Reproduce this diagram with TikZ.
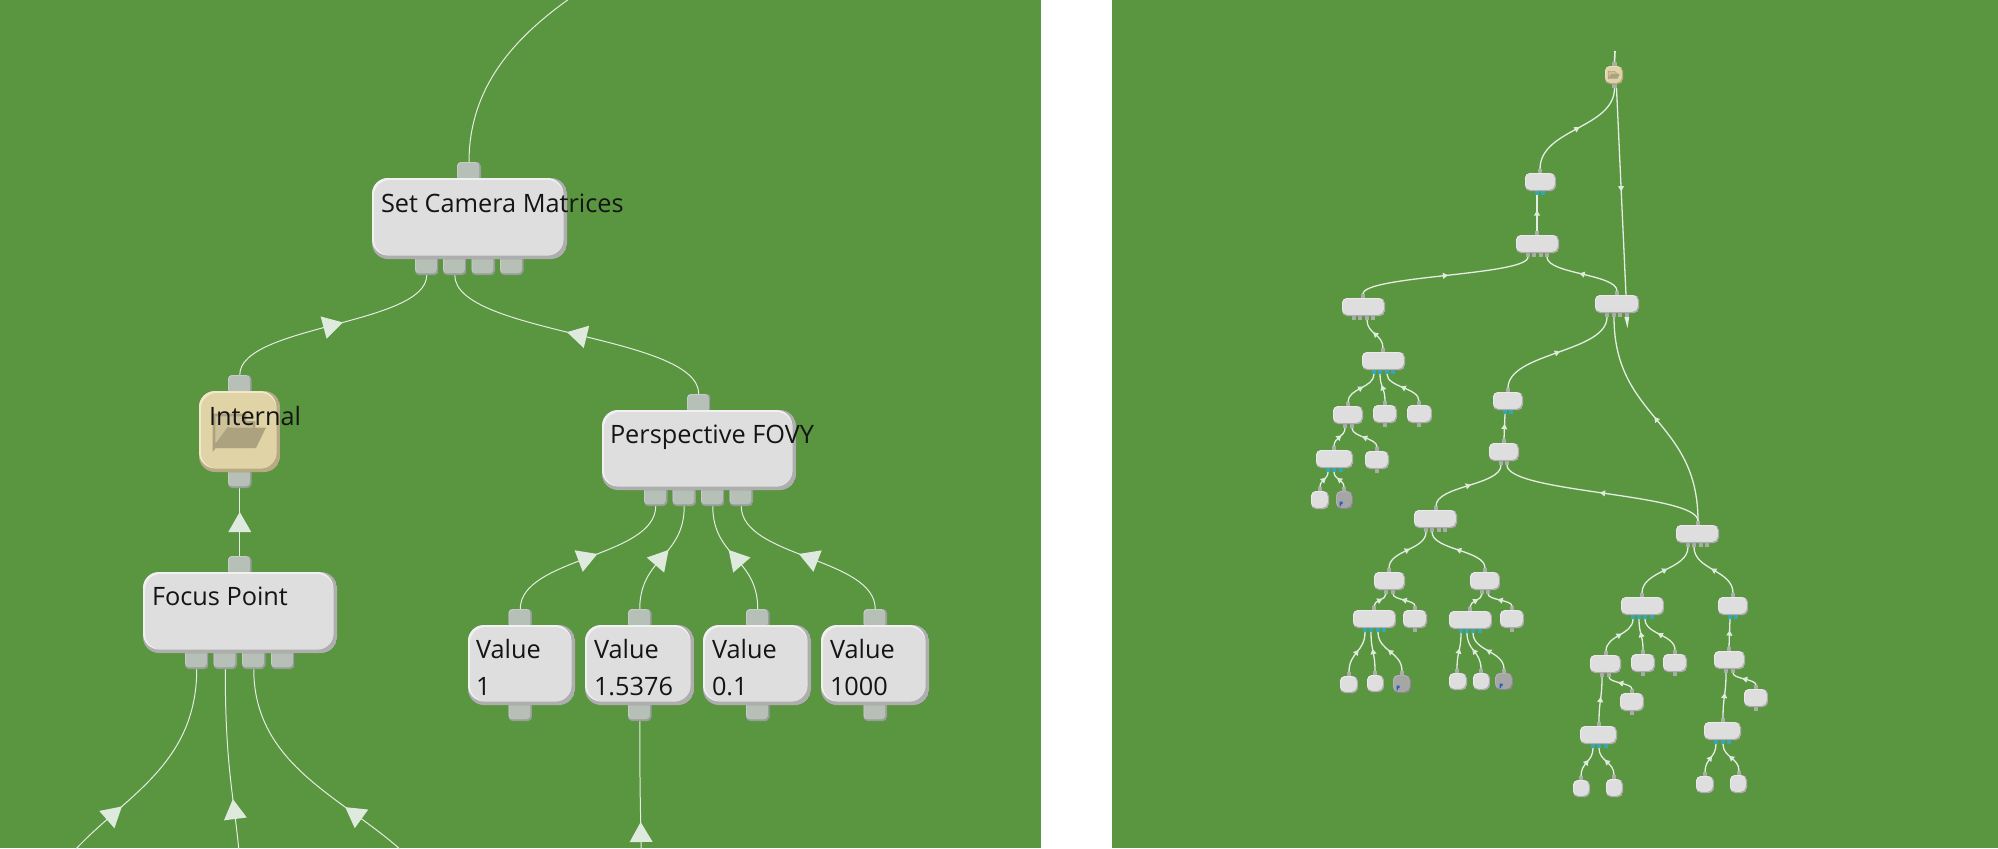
\documentclass[tikz,border=0pt]{standalone}
\usepackage{fontspec}
\setmainfont{Open Sans}
\usetikzlibrary{calc,decorations.markings}
\definecolor{grn}{HTML}{5A963F}
\definecolor{lnc}{HTML}{E4EDE4}
\definecolor{arc}{HTML}{DFEADF}
\definecolor{bxf}{HTML}{DEDEDE}
\definecolor{bxl}{HTML}{F1F1F1}
\definecolor{bxd}{HTML}{7E7E7E}
\definecolor{inf}{HTML}{E0D3A5}
\definecolor{inl}{HTML}{F0E8C8}
\definecolor{ind}{HTML}{8C8260}
\definecolor{ptf}{HTML}{B6C0B7}
\definecolor{ptl}{HTML}{C8D0C8}
\definecolor{ptd}{HTML}{76817A}
\definecolor{spt}{HTML}{A9AFA7}
\definecolor{tea}{HTML}{30A9B6}
\definecolor{dkf}{HTML}{A6A6A6}
\definecolor{dkl}{HTML}{B8B8B8}
\definecolor{dkd}{HTML}{6E6E6E}
\definecolor{fol}{HTML}{ACA27F}
\definecolor{fob}{HTML}{CDC19A}
\definecolor{blu}{HTML}{2C5DB8}
\pgfdeclarelayer{panels}
\pgfdeclarelayer{links}
\pgfsetlayers{panels,links,main}
\tikzset{
  bv/.style n args={6}{% radius, dark width, light width, face, light, dark
    rounded corners=#1, fill=#6, draw=none, inner sep=0pt, outer sep=0pt,
    path picture={
      \fill[#4!50!#6] (path picture bounding box.south west) rectangle (path picture bounding box.north east);
      \fill[#5,rounded corners=#1] ([shift={(0pt,#2)}]path picture bounding box.south west) rectangle ([shift={(-#2,0pt)}]path picture bounding box.north east);
      \fill[#4,rounded corners=#1] ([shift={(#3,#2)}]path picture bounding box.south west) rectangle ([shift={(-#2,-#3)}]path picture bounding box.north east);
    }},
  bigbox/.style={bv={8pt}{1.8pt}{1pt}{bxf}{bxl}{bxd}},
  bigint/.style={bv={8pt}{1.8pt}{1pt}{inf}{inl}{ind}},
  bigport/.style={bv={2pt}{.9pt}{.4pt}{ptf}{ptl}{ptd}},
  smbox/.style={bv={2.5pt}{.75pt}{.35pt}{bxf}{bxl}{bxd}},
  smint/.style={bv={2.5pt}{.75pt}{.35pt}{inf}{inl}{ind}},
  smdark/.style={bv={2.5pt}{.75pt}{.35pt}{dkf}{dkl}{dkd}},
  smport/.style={fill=spt,draw=none,inner sep=0pt,outer sep=0pt,minimum width=2.2pt,minimum height=2pt},
  tlport/.style={fill=tea,draw=none,inner sep=0pt,outer sep=0pt,minimum width=2.2pt,minimum height=2pt},
  lbl/.style={inner sep=0pt,outer sep=0pt,anchor=base west,text=black!92,font=\fontsize{12.65}{14}\selectfont},
  connB/.style={draw=lnc,line width=.5pt,postaction={decorate},decoration={markings,
    mark=at position #1 with {\fill[arc] (5pt,0pt)--(-5pt,5.75pt)--(-5pt,-5.75pt)--cycle;}}},
  connB/.default=0.5,
  connS/.style={draw=lnc,line width=.65pt,postaction={decorate},decoration={markings,
    mark=at position #1 with {\fill[arc] (1.3pt,0pt)--(-1.3pt,1.55pt)--(-1.3pt,-1.55pt)--cycle;}}},
  connS/.default=0.5,
}
% rectangle node from its corners
\newcommand\RectN[6]{\node[#6,minimum width={(#4-#2)*.5pt},minimum height={(#5-#3)*.5pt}] (#1) at ({(#2+#4)/2},{(#3+#5)/2}) {};}
% S-curve connector, vertical at both ends
\newcommand\Conn[3]{\path[#1] (#2) .. controls ($(#2)!.5!(#2|-#3)$) and ($(#3)!.5!(#3|-#2)$) .. (#3);}
% small node with top port and bottom ports
\newcommand\SNode[9]{%
  \node[smport] (#1T) at (#7,{#3-2}) {};
  \foreach \px [count=\ii] in {#8} {\node[#9] (#1\ii) at (\px,{#5+2}) {};}
  \RectN{#1}{#2}{#3}{#4}{#5}{#6}}
% small leaf with a top port only
\newcommand\SLeaf[7]{%
  \node[smport] (#1T) at (#7,{#3-2}) {};
  \RectN{#1}{#2}{#3}{#4}{#5}{#6}}
% folder icon
\newcommand\FolderIcon[3]{%
  \begin{scope}[shift={(#1,#2)},scale=#3]
    \fill[fob] (-26,16.5)--(-26,-16.5)--(5,-16.5)--(5,-9)--(14,-9)--(14,16.5)--cycle;
    \draw[fol,line width=#3*1.3pt] (-11,-4)--(-26,16.5)--(-26,-16.5)--(5,-16.5)--(5,-9)--(14,-9)--(14,-4);
    \fill[fol] (-11,-4)--(26,-4)--(16,16.5)--(-26,16.5)--cycle;
  \end{scope}}
\begin{document}
\begin{tikzpicture}[x=.5pt,y=-.5pt]
\useasboundingbox (0,0) rectangle (1998,848);
\begin{pgfonlayer}{panels}
  \fill[white] (0,0) rectangle (1998,848);
  \fill[grn] (0,0) rectangle (1041,848);
  \fill[grn] (1112,0) rectangle (1998,848);
\end{pgfonlayer}

%%% ---------- left panel ----------
\RectN{scmT}{457}{162}{481}{182}{bigport}
\RectN{scmA}{415}{255}{438.5}{275}{bigport}
\RectN{scmB}{443}{255}{466.5}{275}{bigport}
\RectN{scmC}{471.5}{255}{495}{275}{bigport}
\RectN{scmD}{500}{255}{523.5}{275}{bigport}
\RectN{scm}{372}{178}{567}{259}{bigbox}
\node[lbl] (scmL) at (381,212) {Set Camera Matrices};

\RectN{intT}{228}{375}{251.5}{395}{bigport}
\RectN{intB}{228}{468}{251.5}{488}{bigport}
\RectN{int}{199}{391}{280}{472}{bigint}
\FolderIcon{240}{431.5}{1}
\node[lbl] (intL) at (209,425) {Internal};

\RectN{focT}{228}{556}{251.5}{576}{bigport}
\RectN{focA}{185}{649}{208.5}{669}{bigport}
\RectN{focB}{213.5}{649}{237}{669}{bigport}
\RectN{focC}{242}{649}{265.5}{669}{bigport}
\RectN{focD}{271}{649}{294.5}{669}{bigport}
\RectN{foc}{143}{572}{337}{653}{bigbox}
\node[lbl] (focL) at (152,605) {Focus Point};

\RectN{perT}{687}{394}{710.5}{414}{bigport}
\RectN{perA}{644}{486}{667.5}{506}{bigport}
\RectN{perB}{672.5}{486}{696}{506}{bigport}
\RectN{perC}{701}{486}{724.5}{506}{bigport}
\RectN{perD}{729.5}{486}{753}{506}{bigport}
\RectN{per}{602}{410}{796}{490}{bigbox}
\node[lbl] (perL) at (610,443) {Perspective FOVY};

\RectN{vaT}{508.5}{609}{532}{629}{bigport}
\RectN{vaB}{508.5}{701}{532}{721}{bigport}
\RectN{va}{468}{625}{575}{705}{bigbox}
\node[lbl] (vaL) at (476,658) {Value};
\node[lbl] (vaN) at (476,695) {1};
\RectN{vbT}{628}{609}{651.5}{629}{bigport}
\RectN{vbB}{628}{701}{651.5}{721}{bigport}
\RectN{vb}{585}{625}{694}{705}{bigbox}
\node[lbl] (vbL) at (594,658) {Value};
\node[lbl] (vbN) at (594,695) {1.5376};
\RectN{vcT}{746}{609}{769.5}{629}{bigport}
\RectN{vcB}{746}{701}{769.5}{721}{bigport}
\RectN{vc}{703}{625}{811}{705}{bigbox}
\node[lbl] (vcL) at (712,658) {Value};
\node[lbl] (vcN) at (712,695) {0.1};
\RectN{vdT}{863.5}{609}{887}{629}{bigport}
\RectN{vdB}{863.5}{701}{887}{721}{bigport}
\RectN{vd}{821}{625}{929}{705}{bigbox}
\node[lbl] (vdL) at (830,658) {Value};
\node[lbl] (vdN) at (830,695) {1000};

\coordinate (topEnd) at (900,-300);
\coordinate (fa) at (32,957);
\coordinate (fb) at (243,949);
\coordinate (fc) at (453,957);
\coordinate (vbEnd) at (642,943);

\begin{pgfonlayer}{links}
\begin{scope}
\clip (0,0) rectangle (1041,848);
\Conn{draw=lnc,line width=.5pt}{scmT.north}{topEnd}
\Conn{connB}{intT.north}{scmA.south}
\Conn{connB}{perT.north}{scmB.south}
\Conn{connB}{focT.north}{intB.south}
\Conn{connB}{vaT.north}{perA.south}
\Conn{connB}{vbT.north}{perB.south}
\Conn{connB}{vcT.north}{perC.south}
\Conn{connB}{vdT.north}{perD.south}
\Conn{connB}{fa}{focA.south}
\Conn{connB}{fb}{focB.south}
\Conn{connB}{fc}{focC.south}
\Conn{connB}{vbEnd}{vbB.south}
\end{scope}
\end{pgfonlayer}

%%% ---------- right panel ----------
% folder at the top
\SNode{x}{1605}{66}{1623}{84}{smint}{1614.5}{1614.5}{smport}
\FolderIcon{1614}{75}{.22}
\SNode{a}{1525}{173}{1556}{191}{smbox}{1540}{1537,1543}{tlport}
\SNode{b}{1516}{235}{1559}{253}{smbox}{1537}{1528,1534,1541,1547}{smport}
\SNode{c}{1342}{298}{1385}{316}{smbox}{1363}{1354,1360,1367,1373}{smport}
\SNode{d}{1595}{295}{1639}{313}{smbox}{1617}{1607,1614,1620,1627}{smport}
\SNode{e}{1362}{352}{1405}{370}{smbox}{1383}{1374,1380,1387,1393}{tlport}
\SNode{f}{1333}{406}{1363}{424}{smbox}{1348}{1345,1352}{smport}
\SNode{g}{1373}{405}{1397}{423}{smbox}{1385}{1385}{smport}
\SNode{h}{1407}{405}{1432}{423}{smbox}{1419}{1419}{smport}
\SNode{i}{1316}{450}{1353}{468}{smbox}{1334}{1328,1334,1341}{tlport}
\SNode{j}{1365}{451}{1389}{469}{smbox}{1377}{1377}{smport}
\SLeaf{k}{1311}{491}{1329}{509}{smbox}{1320}
\SLeaf{l}{1336}{491}{1353}{509}{smdark}{1344}
\SNode{m}{1493}{392}{1523}{410}{smbox}{1508}{1505,1511}{tlport}
\SNode{n}{1489}{443}{1519}{461}{smbox}{1504}{1501,1507}{smport}
\SNode{o}{1414}{510}{1457}{528}{smbox}{1436}{1426,1432,1439,1445}{smport}
\SNode{q}{1676}{525}{1719}{543}{smbox}{1698}{1688,1694,1701,1707}{smport}
\SNode{p}{1374}{572}{1405}{590}{smbox}{1389}{1386,1393}{smport}
\SNode{r}{1470}{572}{1500}{590}{smbox}{1485}{1482,1488}{smport}
\SNode{s}{1500}{610}{1524}{628}{smbox}{1512}{1512}{smport}
\SNode{t}{1353}{610}{1396}{628}{smbox}{1374}{1365,1371,1378,1384}{tlport}
\SNode{u}{1449}{611}{1492}{629}{smbox}{1470}{1461,1467,1473,1480}{tlport}
\SNode{v}{1403}{610}{1427}{628}{smbox}{1415}{1415}{smport}
\SLeaf{ta}{1340}{676}{1358}{693}{smbox}{1349}
\SLeaf{tb}{1367}{675}{1384}{692}{smbox}{1375}
\SLeaf{tc}{1393}{675}{1411}{693}{smdark}{1402}
\SLeaf{ua}{1449}{673}{1467}{690}{smbox}{1457}
\SLeaf{ub}{1473}{673}{1490}{690}{smbox}{1481}
\SLeaf{uc}{1495}{673}{1513}{690}{smdark}{1504}
\SNode{y}{1621}{597}{1664}{615}{smbox}{1642}{1633,1639,1645,1652}{tlport}
\SNode{z}{1718}{597}{1748}{615}{smbox}{1733}{1730,1736}{tlport}
\SNode{aa}{1590}{655}{1621}{673}{smbox}{1606}{1602,1609}{smport}
\SNode{ab}{1631}{654}{1655}{672}{smbox}{1643}{1643}{smport}
\SNode{ac}{1663}{654}{1687}{672}{smbox}{1675}{1675}{smport}
\SNode{ad}{1620}{693}{1644}{711}{smbox}{1632}{1632}{smport}
\SNode{ae}{1580}{726}{1617}{744}{smbox}{1599}{1593,1599,1606}{tlport}
\SLeaf{af}{1573}{780}{1590}{797}{smbox}{1581}
\SLeaf{ag}{1606}{779}{1623}{797}{smbox}{1614}
\SNode{ah}{1714}{651}{1745}{669}{smbox}{1729}{1726,1733}{smport}
\SNode{ai}{1744}{689}{1768}{707}{smbox}{1756}{1756}{smport}
\SNode{aj}{1704}{722}{1741}{740}{smbox}{1723}{1716,1723,1729}{tlport}
\SLeaf{ak}{1696}{776}{1714}{793}{smbox}{1705}
\SLeaf{al}{1730}{775}{1747}{793}{smbox}{1739}
% blue marks on the dark nodes
\fill[blu] (1339.5,501.5) rectangle (1342.5,504) (1339.5,504) rectangle (1341,506);
\fill[blu] (1396.5,685.5) rectangle (1399.5,688) (1396.5,688) rectangle (1398,690);
\fill[blu] (1499.5,683.5) rectangle (1502.5,686) (1499.5,686) rectangle (1501,688);

\coordinate (xIn) at (1615,51);
\coordinate (dTip) at (1627.5,328);
\begin{pgfonlayer}{links}
\draw[draw=lnc,line width=.8pt] (xT.north) -- (xIn);
\draw[connS=0.44] ([xshift=1pt]x1.south) -- (d4.south);
\fill[lnc] ([xshift=-1.3pt]d4.south) -- (dTip) -- ([xshift=1.1pt]d4.south) -- cycle;
\Conn{connS}{aT.north}{x1.south}
\Conn{connS}{bT.north}{a1.south}
\Conn{connS}{cT.north}{b1.south}
\Conn{connS}{dT.north}{b4.south}
\Conn{connS}{eT.north}{c3.south}
\Conn{connS}{fT.north}{e1.south}
\Conn{connS}{gT.north}{e2.south}
\Conn{connS}{hT.north}{e3.south}
\Conn{connS}{iT.north}{f1.south}
\Conn{connS}{jT.north}{f2.south}
\Conn{connS}{kT.north}{i1.south}
\Conn{connS}{lT.north}{i2.south}
\Conn{connS}{mT.north}{d1.south}
\Conn{connS}{nT.north}{m1.south}
\Conn{connS}{oT.north}{n1.south}
\Conn{connS}{qT.north}{n2.south}
\Conn{connS}{qT.north}{d2.south}
\Conn{connS}{pT.north}{o1.south}
\Conn{connS}{rT.north}{o2.south}
\Conn{connS}{tT.north}{p1.south}
\Conn{connS}{vT.north}{p2.south}
\Conn{connS}{uT.north}{r1.south}
\Conn{connS}{sT.north}{r2.south}
\Conn{connS}{taT.north}{t1.south}
\Conn{connS}{tbT.north}{t2.south}
\Conn{connS}{tcT.north}{t3.south}
\Conn{connS}{uaT.north}{u1.south}
\Conn{connS}{ubT.north}{u2.south}
\Conn{connS}{ucT.north}{u3.south}
\Conn{connS}{yT.north}{q1.south}
\Conn{connS}{zT.north}{q2.south}
\Conn{connS}{aaT.north}{y1.south}
\Conn{connS}{abT.north}{y2.south}
\Conn{connS}{acT.north}{y3.south}
\Conn{connS}{adT.north}{aa2.south}
\Conn{connS}{aeT.north}{aa1.south}
\Conn{connS}{afT.north}{ae1.south}
\Conn{connS}{agT.north}{ae2.south}
\Conn{connS}{ahT.north}{z1.south}
\Conn{connS}{aiT.north}{ah2.south}
\Conn{connS}{ajT.north}{ah1.south}
\Conn{connS}{akT.north}{aj1.south}
\Conn{connS}{alT.north}{aj2.south}
\end{pgfonlayer}
\end{tikzpicture}
\end{document}
